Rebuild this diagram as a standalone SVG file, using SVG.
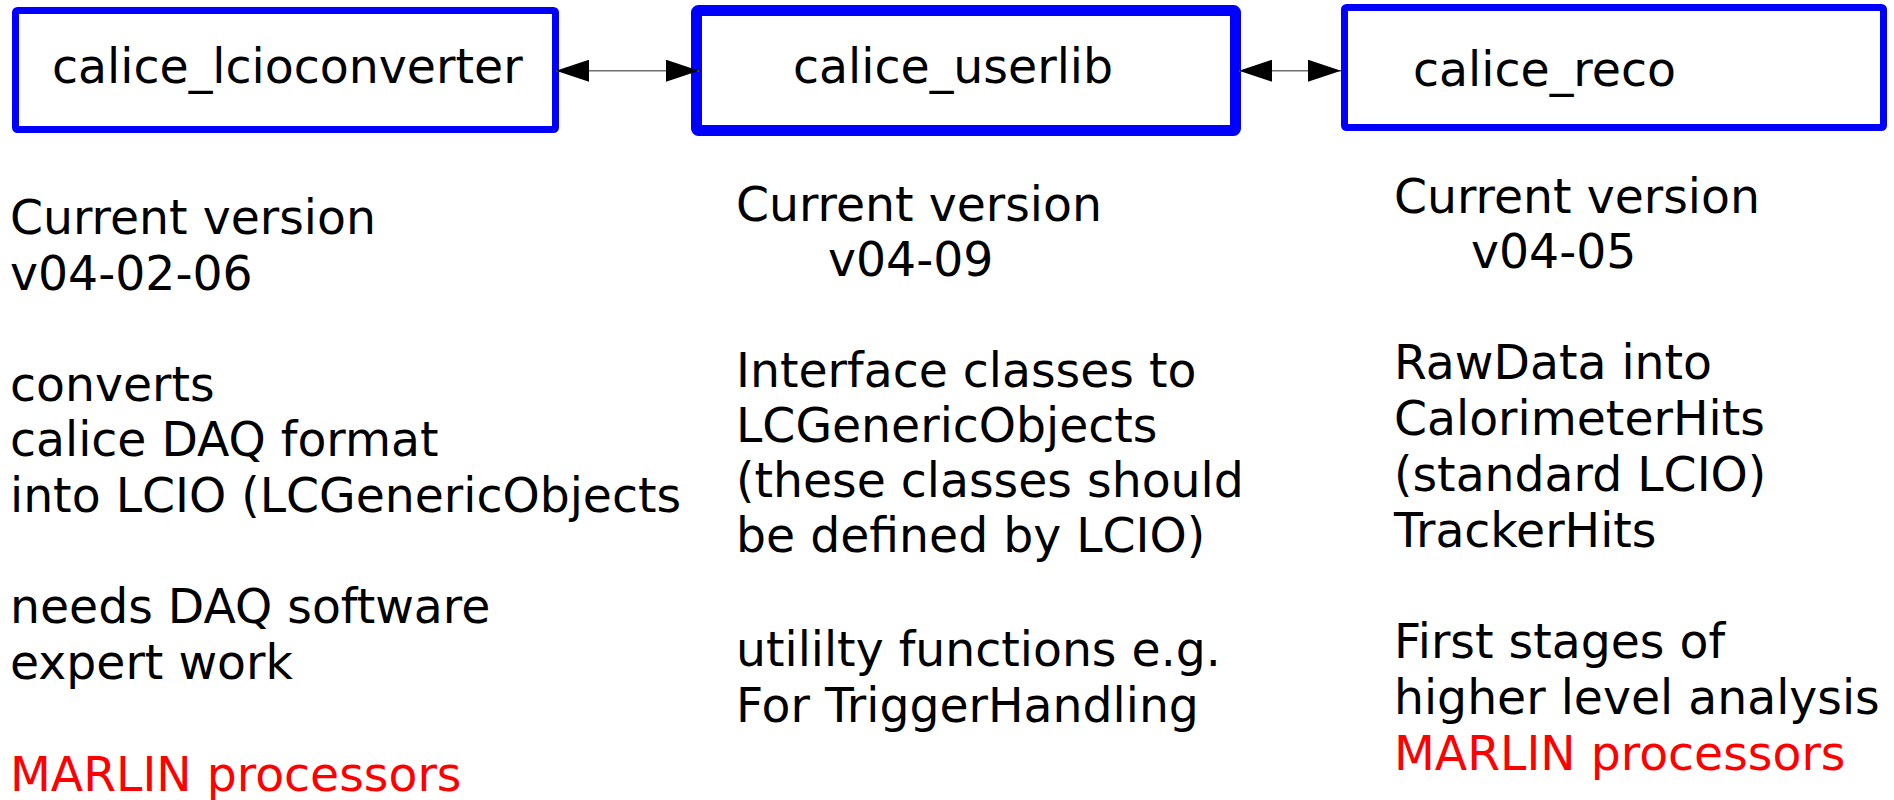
<svg xmlns="http://www.w3.org/2000/svg" width="1894" height="800" viewBox="0 0 1894 800">
  <style>
    .box { fill: #ffffff; stroke: #0000ff; stroke-linejoin: round; }
    .label { font-family: "DejaVu Sans", "Verdana", sans-serif; font-size: 47.4px; fill: #000000; }
    .note { font-family: "DejaVu Sans", "Verdana", sans-serif; font-size: 47.3px; fill: #000000; }
    .red { fill: #ff0000; }
    .link { stroke: #6e6e6e; stroke-width: 1.5; fill: none; marker-start: url(#head); marker-end: url(#head); }
  </style>
  <defs>
    <marker id="head" markerUnits="userSpaceOnUse" markerWidth="33" markerHeight="22" refX="33" refY="11" orient="auto-start-reverse">
      <path d="M0,0 L33,11 L0,22 Z" fill="#000000"/>
    </marker>
  </defs>
  <rect width="1894" height="800" fill="#ffffff"/>

  <g id="node-lcioconverter">
    <rect class="box" x="15.5" y="10.5" width="540" height="119" rx="2" stroke-width="7"/>
    <text class="label" x="52" y="83">calice_lcioconverter</text>
  </g>

  <g id="node-userlib">
    <rect class="box" x="696.5" y="10.5" width="539" height="120" rx="2" stroke-width="11"/>
    <text class="label" x="793" y="83">calice_userlib</text>
  </g>

  <g id="node-reco">
    <rect class="box" x="1344.5" y="7.5" width="539" height="120" rx="2" stroke-width="7"/>
    <text class="label" x="1413" y="86">calice_reco</text>
  </g>

  <g id="connectors">
    <line class="link" x1="556" y1="70.7" x2="699" y2="70.7"/>
    <line class="link" x1="1239" y1="70.7" x2="1341" y2="70.7"/>
  </g>

  <g id="notes-lcioconverter">
    <text class="note">
      <tspan x="10" y="234.3">Current version</tspan>
      <tspan x="10" y="289.5">v04-02-06</tspan>
      <tspan x="10" y="400.5">converts</tspan>
      <tspan x="10" y="456">calice DAQ format</tspan>
      <tspan x="10" y="511.5">into LCIO (LCGenericObjects</tspan>
      <tspan x="10" y="623">needs DAQ software</tspan>
      <tspan x="10" y="679">expert work</tspan>
      <tspan x="10" y="790.5" class="red">MARLIN processors</tspan>
    </text>
  </g>

  <g id="notes-userlib">
    <text class="note">
      <tspan x="736" y="220.7">Current version</tspan>
      <tspan x="828" y="275.9">v04-09</tspan>
      <tspan x="736" y="386.7">Interface classes to</tspan>
      <tspan x="736" y="442">LCGenericObjects</tspan>
      <tspan x="736" y="497.3">(these classes should</tspan>
      <tspan x="736" y="552">be defined by LCIO)</tspan>
      <tspan x="736" y="666">utililty functions e.g.</tspan>
      <tspan x="736" y="722">For TriggerHandling</tspan>
    </text>
  </g>

  <g id="notes-reco">
    <text class="note">
      <tspan x="1394" y="212.7">Current version</tspan>
      <tspan x="1471" y="267.5">v04-05</tspan>
      <tspan x="1394" y="379.3">RawData into</tspan>
      <tspan x="1394" y="435">CalorimeterHits</tspan>
      <tspan x="1394" y="491">(standard LCIO)</tspan>
      <tspan x="1394" y="546.7">TrackerHits</tspan>
      <tspan x="1394" y="658.3">First stages of</tspan>
      <tspan x="1394" y="714.3">higher level analysis</tspan>
      <tspan x="1394" y="770" class="red">MARLIN processors</tspan>
    </text>
  </g>
</svg>
